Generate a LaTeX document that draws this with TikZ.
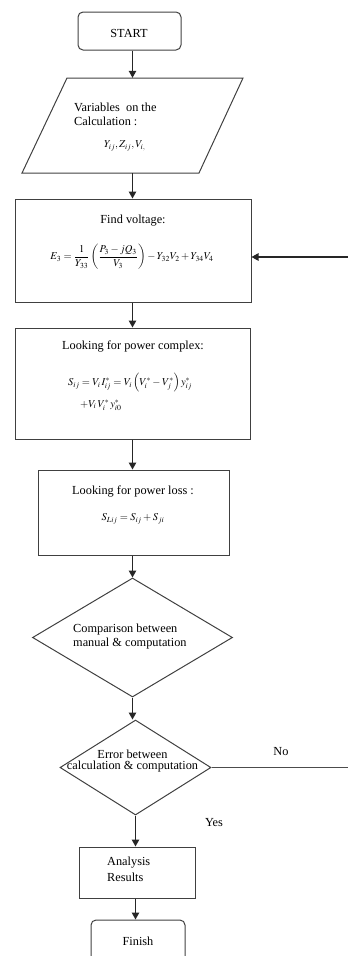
\documentclass[tikz,border=0pt]{standalone}
\usepackage{amsmath}
\usepackage{mathptmx}
\usepackage{fontspec}
\setmainfont{Liberation Serif}
\usetikzlibrary{shapes.geometric,arrows.meta}
\tikzset{
  box/.style={draw=black!75, line width=1pt, inner sep=0pt},
  roundbox/.style={box, rounded corners=5pt},
  paraframe/.style={inner sep=0pt},
  dec/.style={box, inner sep=2pt, diamond},
  txt/.style={inner sep=0pt, font=\fontsize{12.3}{14}\selectfont},
  frm/.style={inner sep=0pt, font=\fontsize{10.5}{13}\selectfont},
  arr/.style={draw=black!85, line width=1.1pt, -{Triangle[length=7pt,width=7.5pt]}},
  ln/.style={draw=black!70, line width=1.1pt}
}
\begin{document}
\begin{tikzpicture}[x=1pt,y=-1pt]
\useasboundingbox (0,0) rectangle (348,956);
\clip (0,0) rectangle (348,956);
% nodes
\node[roundbox, minimum width=103pt, minimum height=38pt] (start) at (129.5,31) {};
\node[txt] (starttxt) at (129,33) {START};
% parallelogram: invisible frame node + drawn outline
\node[paraframe, minimum width=221pt, minimum height=95pt] (var) at (132.5,125.5) {};
\draw[box] (67,78) -- (243,78) -- (199,173) -- (22,173) -- cycle;
\node[txt, anchor=west] (vart1) at (74,107) {Variables\ \ on the};
\node[txt, anchor=west] (vart2) at (74,121) {Calculation :};
\node[frm, anchor=west] (varf) at (104,146) {$Y_{ij}, Z_{ij}, V_{i,}$};
\node[box, minimum width=236pt, minimum height=103pt] (fv) at (133,250.5) {};
\node[txt] (fvt) at (133,221) {Find voltage:};
\node[frm] (fvf) at (132,257) {$E_3=\dfrac{1}{Y_{33}}\left(\dfrac{P_3-jQ_3}{V_3}\right)-Y_{32}V_2+Y_{34}V_4$};
\node[box, minimum width=235pt, minimum height=111pt] (pc) at (132.5,383.5) {};
\node[txt] (pct) at (133,346) {Looking for power complex:};
\node[frm, anchor=west] (pcf1) at (68,383) {$S_{ij}=V_i\,I_{ij}^*=V_i\left(V_i^*-V_j^*\right)y_{ij}^*$};
\node[frm, anchor=west] (pcf2) at (80,405) {$+V_i\,V_i^*\,y_{i0}^*$};
\node[box, minimum width=191pt, minimum height=85pt] (pl) at (133.5,512.5) {};
\node[txt] (plt) at (133,491) {Looking for power loss :};
\node[frm] (plf) at (133,519) {$S_{Lij}=S_{ij}+S_{ji}$};
\node[dec, minimum width=200pt, minimum height=119pt] (cmp) at (132.5,637.5) {\strut};
\node[txt, anchor=west] (cmpt1) at (73,630) {Comparison between};
\node[txt, anchor=west] (cmpt2) at (73,644) {manual \& computation};
\node[dec, minimum width=151pt, minimum height=95pt] (err) at (135.5,767.5) {\strut};
\node[txt] (errt1) at (132.5,754) {Error between};
\node[txt] (errt2) at (132.5,767) {calculation \& computation};
\node[box, minimum width=116pt, minimum height=51pt] (an) at (137,872.5) {};
\node[txt, anchor=west] (ant1) at (107,863) {Analysis};
\node[txt, anchor=west] (ant2) at (107,877) {Results};
\node[roundbox, minimum width=94pt, minimum height=54pt] (fin) at (138,947) {};
\node[txt] (fint) at (138,941) {Finish};
\node[txt] (no) at (281,752) {No};
\node[txt] (yes) at (214,823) {Yes};
\coordinate (noend) at (348,767.5);
\coordinate (fbstart) at (348,257);
% connectors
\draw[arr] (start.south -| var.north) -- (var.north);
\draw[arr] (var.south) -- (var.south |- fv.north);
\draw[arr] (fv.south -| var.south) -- (pc.north -| var.south);
\draw[arr] (pc.south -| var.south) -- (pl.north -| var.south);
\draw[arr] (pl.south -| cmp.north) -- (cmp.north);
\draw[arr] (cmp.south) -- (cmp.south |- err.north);
\draw[arr] (err.south) -- (err.south |- an.north);
\draw[arr] (an.south -| err.south) -- (fin.north -| err.south);
\draw[ln] (err.east) -- (noend);
\draw[arr] (fbstart) -- (fv.east |- fbstart);
\end{tikzpicture}
\end{document}
